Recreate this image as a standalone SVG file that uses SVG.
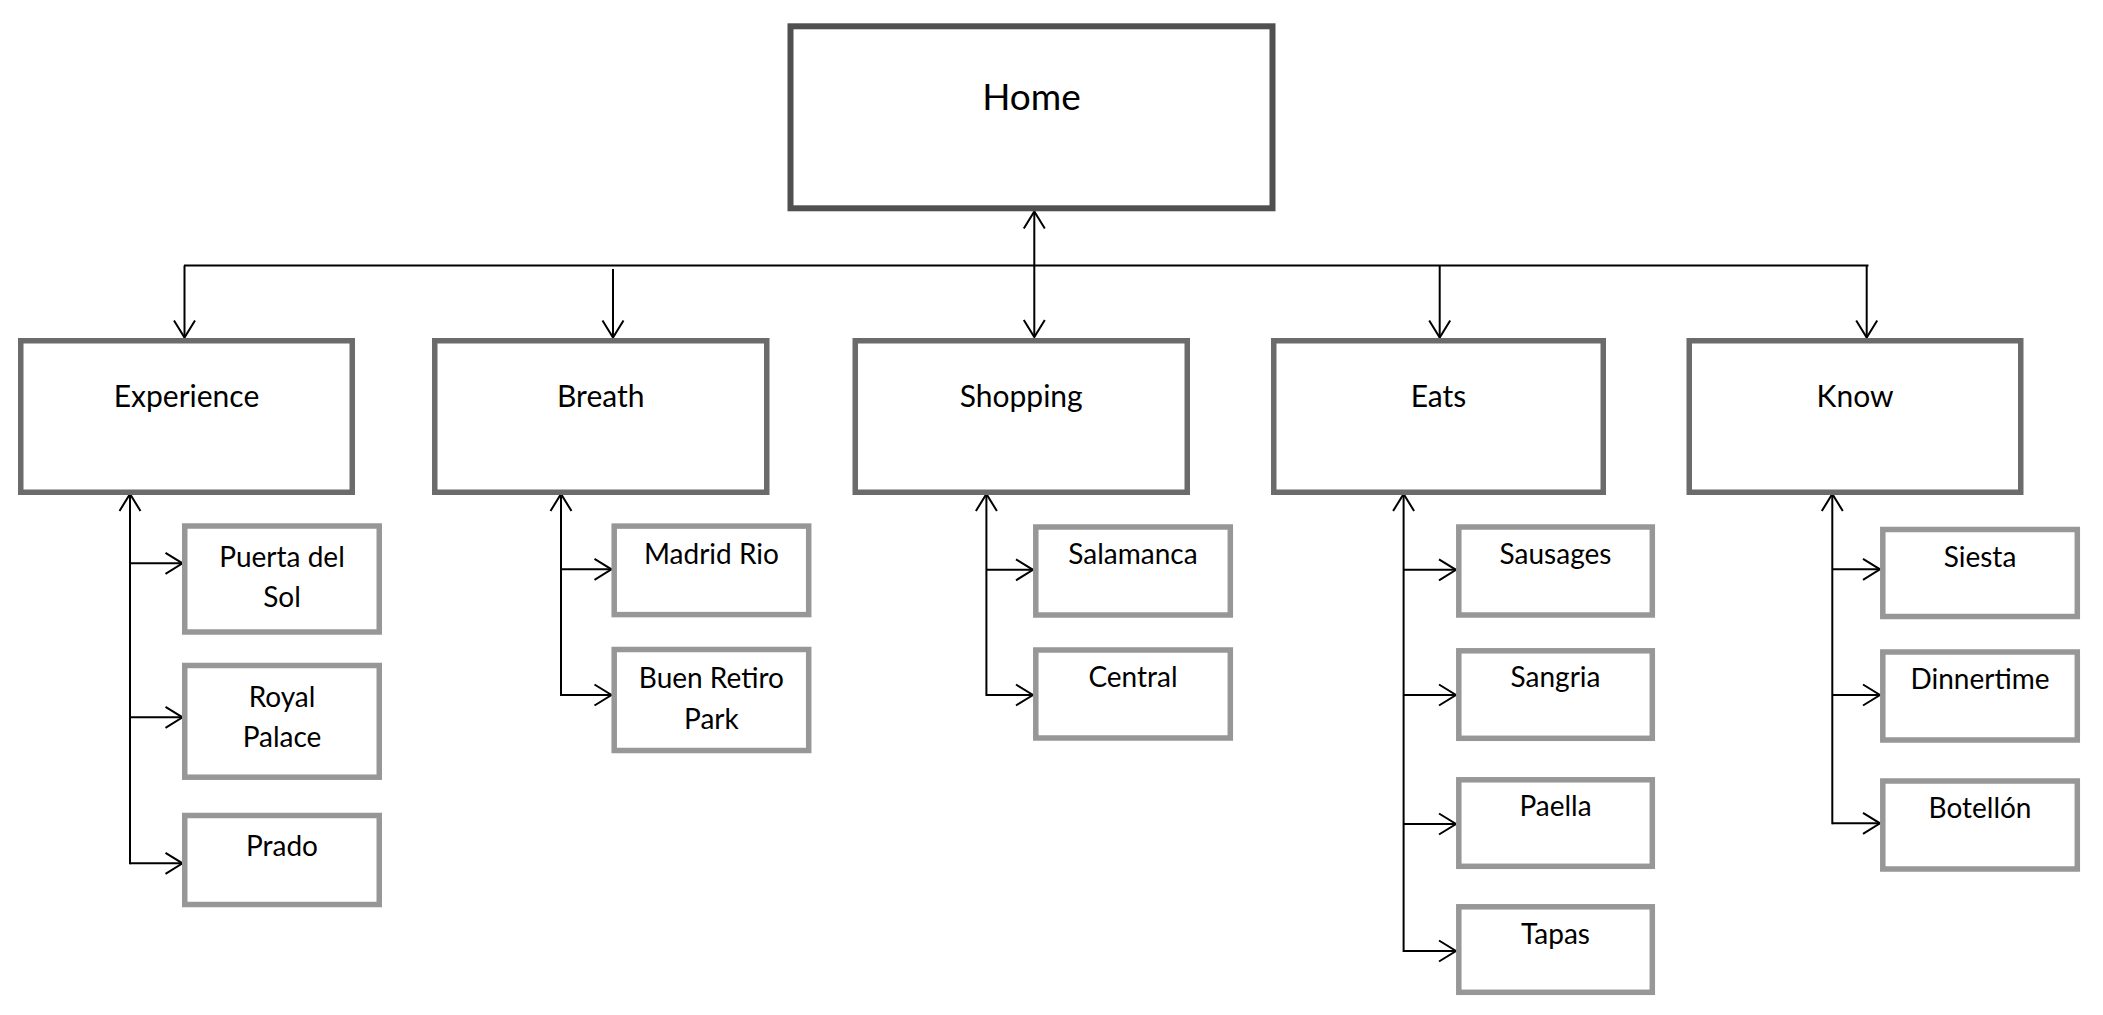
<svg xmlns="http://www.w3.org/2000/svg" width="2103" height="1015" viewBox="0 0 2103 1015">
<defs>
<style>
.home{fill:#fff;stroke:#505050;stroke-width:6}
.top{fill:#fff;stroke:#6b6b6b;stroke-width:5.5}
.child{fill:#fff;stroke:#979797;stroke-width:5.5}
text{font-family:Lato,"Liberation Sans",sans-serif;fill:#000;text-anchor:middle}
.th{font-size:37px}
.tt{font-size:30px}
.tc{font-size:28px}
.conn path{fill:none;stroke:#000;stroke-width:2}
</style>
<marker id="arr" markerUnits="userSpaceOnUse" orient="auto-start-reverse" markerWidth="40" markerHeight="40" refX="0" refY="0" style="overflow:visible">
<path d="M-17,-10.5 L0,0 L-17,10.5" fill="none" stroke="#000" stroke-width="2"/>
</marker>
</defs>
<rect width="2103" height="1015" fill="#fff"/>

<g id="connectors" class="conn">
<path d="M184,265.5 H1868.5"/>
<path d="M184.5,265.5 V337.5" marker-end="url(#arr)"/>
<path d="M613,269 V337.5" marker-end="url(#arr)"/>
<path d="M1034.3,211.5 V337" marker-start="url(#arr)" marker-end="url(#arr)"/>
<path d="M1439.7,265.5 V337.5" marker-end="url(#arr)"/>
<path d="M1866.7,265.5 V337.5" marker-end="url(#arr)"/>

<path d="M130,864.3 V494" marker-end="url(#arr)"/>
<path d="M130,563.3 H182.5" marker-end="url(#arr)"/>
<path d="M130,717.3 H182.5" marker-end="url(#arr)"/>
<path d="M130,863.3 H182.5" marker-end="url(#arr)"/>

<path d="M561,696 V494" marker-end="url(#arr)"/>
<path d="M561,569.3 H611.5" marker-end="url(#arr)"/>
<path d="M561,695 H611.5" marker-end="url(#arr)"/>

<path d="M986.4,696 V494" marker-end="url(#arr)"/>
<path d="M986.4,569.8 H1033" marker-end="url(#arr)"/>
<path d="M986.4,695 H1033" marker-end="url(#arr)"/>

<path d="M1403.6,952 V494" marker-end="url(#arr)"/>
<path d="M1403.6,569.8 H1456" marker-end="url(#arr)"/>
<path d="M1403.6,695 H1456" marker-end="url(#arr)"/>
<path d="M1403.6,824 H1456" marker-end="url(#arr)"/>
<path d="M1403.6,951 H1456" marker-end="url(#arr)"/>

<path d="M1832.3,824.3 V494" marker-end="url(#arr)"/>
<path d="M1832.3,569.3 H1880" marker-end="url(#arr)"/>
<path d="M1832.3,695 H1880" marker-end="url(#arr)"/>
<path d="M1832.3,823.3 H1880" marker-end="url(#arr)"/>
</g>

<g id="home"><rect class="home" x="790.5" y="26.3" width="482" height="182"/><text class="th" x="1031.5" y="110">Home</text></g>

<g id="experience"><rect class="top" x="20.75" y="340.75" width="331.5" height="151.5"/><text class="tt" x="186.5" y="407">Experience</text></g>
<g id="breath"><rect class="top" x="434.75" y="340.75" width="332" height="151.5"/><text class="tt" x="600.75" y="407">Breath</text></g>
<g id="shopping"><rect class="top" x="855.25" y="340.75" width="332" height="151.5"/><text class="tt" x="1021.25" y="407">Shopping</text></g>
<g id="eats"><rect class="top" x="1273.75" y="340.75" width="329.5" height="151.5"/><text class="tt" x="1438.5" y="407">Eats</text></g>
<g id="know"><rect class="top" x="1689.25" y="340.75" width="331.5" height="151.5"/><text class="tt" x="1855" y="407">Know</text></g>

<g id="puerta-del-sol"><rect class="child" x="184.75" y="526" width="194.5" height="106"/><text class="tc" x="282" y="567"><tspan x="282">Puerta del</tspan><tspan x="282" y="607">Sol</tspan></text></g>
<g id="royal-palace"><rect class="child" x="184.75" y="665.5" width="194.5" height="111.7"/><text class="tc" x="282" y="707"><tspan x="282">Royal</tspan><tspan x="282" y="747">Palace</tspan></text></g>
<g id="prado"><rect class="child" x="184.75" y="815.5" width="194.5" height="89"/><text class="tc" x="282" y="856">Prado</text></g>

<g id="madrid-rio"><rect class="child" x="614.2" y="526.1" width="194.5" height="88.5"/><text class="tc" x="711.4" y="564">Madrid Rio</text></g>
<g id="buen-retiro-park"><rect class="child" x="614.2" y="649.5" width="194.5" height="101"/><text class="tc" x="711.4" y="688"><tspan x="711.4">Buen Retiro</tspan><tspan x="711.4" y="729">Park</tspan></text></g>

<g id="salamanca"><rect class="child" x="1035.8" y="527" width="194.5" height="88"/><text class="tc" x="1133" y="564">Salamanca</text></g>
<g id="central"><rect class="child" x="1035.8" y="650" width="194.5" height="88"/><text class="tc" x="1133" y="687">Central</text></g>

<g id="sausages"><rect class="child" x="1458.8" y="527" width="193.5" height="88"/><text class="tc" x="1555.5" y="564">Sausages</text></g>
<g id="sangria"><rect class="child" x="1458.8" y="650.8" width="193.5" height="87.5"/><text class="tc" x="1555.5" y="687">Sangria</text></g>
<g id="paella"><rect class="child" x="1458.8" y="779.8" width="193.5" height="86.5"/><text class="tc" x="1555.5" y="816">Paella</text></g>
<g id="tapas"><rect class="child" x="1458.8" y="906.8" width="193.5" height="85.5"/><text class="tc" x="1555.5" y="943.5">Tapas</text></g>

<g id="siesta"><rect class="child" x="1882.8" y="529.5" width="194.5" height="87"/><text class="tc" x="1980" y="566.5">Siesta</text></g>
<g id="dinnertime"><rect class="child" x="1882.8" y="652" width="194.5" height="88"/><text class="tc" x="1980" y="689">Dinnertime</text></g>
<g id="botellon"><rect class="child" x="1882.8" y="781" width="194.5" height="88"/><text class="tc" x="1980" y="818">Botellón</text></g>
</svg>
